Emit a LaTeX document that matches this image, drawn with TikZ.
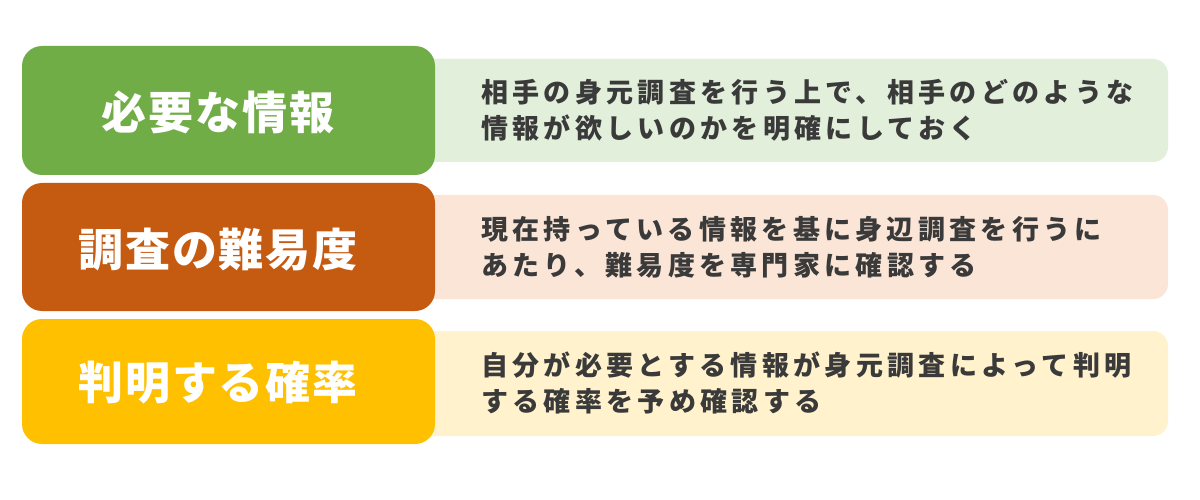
\documentclass[tikz,border=0pt]{standalone}
\usepackage{fontspec}
\newfontfamily\jptitle{Noto Sans CJK JP}[LetterSpace=4]
\newfontfamily\jpbody{Noto Sans CJK JP}[LetterSpace=16]
\definecolor{cgreen}{HTML}{70AD47}
\definecolor{lgreen}{HTML}{E2EFDA}
\definecolor{corange}{HTML}{C55A11}
\definecolor{lorange}{HTML}{FBE5D6}
\definecolor{cyellow}{HTML}{FFC000}
\definecolor{lyellow}{HTML}{FFF2CC}
\definecolor{bodytext}{HTML}{3A3A3A}
\tikzset{
  titlebox/.style={rounded corners=20pt, draw=none},
  descbox/.style={rounded corners=15pt, draw=none},
  titletext/.style={text=white, font=\jptitle\bfseries\fontsize{45}{50}\selectfont, inner sep=0pt},
  desctext/.style={text=bodytext, anchor=west, align=left, inner sep=0pt,
    font=\jpbody\bfseries\fontsize{27}{36}\selectfont},
}
\begin{document}
\begin{tikzpicture}[x=1pt,y=-1pt]
\useasboundingbox[fill=white] (0,0) rectangle (1200,500);
% row 1
\fill[descbox, lgreen] (400,59) rectangle (1168,162);
\fill[titlebox, cgreen] (22,46) rectangle (435,175);
\node[titletext] (t1) at (218,112) {必要な情報};
\node[desctext] (d1) at (481,110) {相手の身元調査を行う上で、相手のどのような\\情報が欲しいのかを明確にしておく};
% row 2
\fill[descbox, lorange] (400,195) rectangle (1168,299);
\fill[titlebox, corange] (22,183) rectangle (435,311);
\node[titletext] (t2) at (218,250) {調査の難易度};
\node[desctext] (d2) at (481,247) {現在持っている情報を基に身辺調査を行うに\\あたり、難易度を専門家に確認する};
% row 3
\fill[descbox, lyellow] (400,331) rectangle (1168,436);
\fill[titlebox, cyellow] (22,319) rectangle (435,444);
\node[titletext] (t3) at (218,383) {判明する確率};
\node[desctext] (d3) at (481,383) {自分が必要とする情報が身元調査によって判明\\する確率を予め確認する};
\end{tikzpicture}
\end{document}
